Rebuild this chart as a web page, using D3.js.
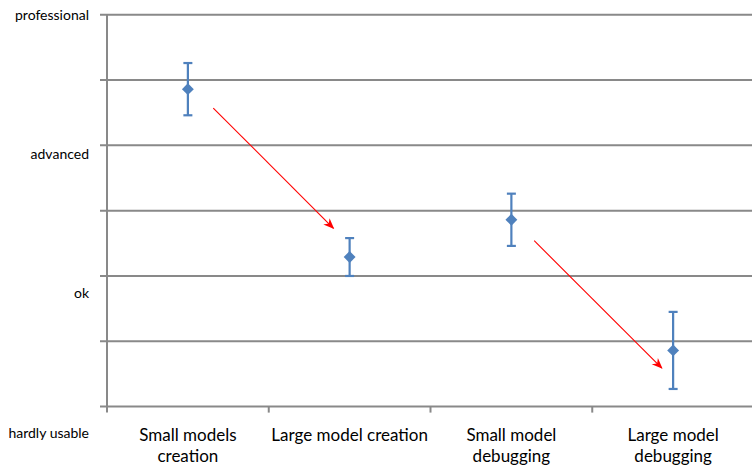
<!DOCTYPE html>
<html>
<head>
<meta charset="utf-8">
<script src="https://cdn.jsdelivr.net/npm/d3@7"></script>
<style>
  html, body { margin: 0; padding: 0; background: #fff; }
  svg { display: block; }
  text { font-family: Lato, "Open Sans", sans-serif; fill: #000; }
</style>
</head>
<body>
<svg id="chart" width="752" height="467"></svg>
<script>
// Tasks rated on the skill scale
const categories = [
  ["Small models", "creation"],
  ["Large model creation"],
  ["Small model", "debugging"],
  ["Large model", "debugging"]
];
const categoryKeys = categories.map(c => c.join(" "));
const means = [4.86, 2.29, 2.86, 0.86];
const errors = [0.40, 0.29, 0.40, 0.59];

// Skill levels shown on the vertical axis
const levelValues = [0, 2, 4, 6];
const levelLabels = ["hardly usable", "ok", "advanced", "professional"];

// Trend arrows, in category-index / rating units
const arrowsFrom = [[0.157, 4.57], [2.141, 2.54]];
const arrowsTo = [[0.900, 2.73], [2.930, 0.59]];

const svg = d3.select("#chart");
const gridColor = "#898989";
const blue = "#4f81bd";

const plotLeft = 107, plotRight = 754, plotTop = 14.7, plotBottom = 406.6;

const x = d3.scaleBand().domain(categoryKeys).range([plotLeft, plotRight]).padding(0);
const y = d3.scaleLinear().domain([0, 6]).range([plotBottom, plotTop]);
// level labels sit progressively lower relative to their gridlines
const yLabel = d3.scaleLinear().domain([0, 6]).range([432.7, 14.7]);
const xIdx = i => plotLeft + (i + 0.5) * x.bandwidth();
const cx = i => x(categoryKeys[i]) + x.bandwidth() / 2;

// horizontal gridlines, each with a short tick left of the axis
svg.append("g")
  .selectAll("line")
  .data(d3.range(0, 7))
  .join("line")
  .attr("x1", plotLeft - 7)
  .attr("x2", 752)
  .attr("y1", d => y(d))
  .attr("y2", d => y(d))
  .attr("stroke", gridColor)
  .attr("stroke-width", 2);

// vertical axis line
svg.append("line")
  .attr("x1", plotLeft).attr("x2", plotLeft)
  .attr("y1", plotTop).attr("y2", plotBottom + 6)
  .attr("stroke", gridColor)
  .attr("stroke-width", 2);

// category boundary ticks below the x axis
const boundaries = categoryKeys.map(k => x(k)).concat([plotRight]);
svg.append("g")
  .selectAll("line")
  .data(boundaries.slice(1))
  .join("line")
  .attr("x1", d => d).attr("x2", d => d)
  .attr("y1", plotBottom).attr("y2", plotBottom + 6)
  .attr("stroke", gridColor)
  .attr("stroke-width", 2);

// level labels
svg.append("g")
  .selectAll("text")
  .data(levelValues)
  .join("text")
  .attr("x", 89)
  .attr("y", d => yLabel(d))
  .attr("dy", "0.35em")
  .attr("text-anchor", "end")
  .style("font-size", "14px")
  .text((d, i) => levelLabels[i]);

// category labels
const catG = svg.append("g")
  .selectAll("text")
  .data(categories)
  .join("text")
  .attr("text-anchor", "middle")
  .style("font-size", "17px")
  .attr("transform", (d, i) => `translate(${cx(i)},441)`);
catG.selectAll("tspan")
  .data(d => d)
  .join("tspan")
  .attr("x", 0)
  .attr("y", (d, i) => i * 21)
  .text(d => d);

// error bars
const eb = svg.append("g")
  .selectAll("g")
  .data(means)
  .join("g")
  .attr("stroke", blue)
  .attr("stroke-width", 2.2);
eb.append("line")
  .attr("x1", (d, i) => cx(i))
  .attr("x2", (d, i) => cx(i))
  .attr("y1", (d, i) => y(d + errors[i]))
  .attr("y2", (d, i) => y(d - errors[i]));
[1, -1].forEach(s => {
  eb.append("line")
    .attr("x1", (d, i) => cx(i) - 4.5)
    .attr("x2", (d, i) => cx(i) + 4.5)
    .attr("y1", (d, i) => y(d + s * errors[i]))
    .attr("y2", (d, i) => y(d + s * errors[i]));
});

// diamond markers
svg.append("g")
  .selectAll("path")
  .data(means)
  .join("path")
  .attr("d", d3.symbol().type(d3.symbolDiamond2).size(90))
  .attr("transform", (d, i) => `translate(${cx(i)},${y(d)})`)
  .attr("fill", blue);

// red trend arrows
svg.append("defs").append("marker")
  .attr("id", "arrowhead")
  .attr("viewBox", "0 0 10 10")
  .attr("refX", 9).attr("refY", 5)
  .attr("markerWidth", 11).attr("markerHeight", 11)
  .attr("markerUnits", "userSpaceOnUse")
  .attr("orient", "auto")
  .append("path")
  .attr("d", "M0,1 L10,5 L0,9 L3,5 Z")
  .attr("fill", "#ff0000");

svg.append("g")
  .selectAll("line")
  .data(arrowsFrom)
  .join("line")
  .attr("x1", d => xIdx(d[0]))
  .attr("y1", d => y(d[1]))
  .attr("x2", (d, i) => xIdx(arrowsTo[i][0]))
  .attr("y2", (d, i) => y(arrowsTo[i][1]))
  .attr("stroke", "#ff0000")
  .attr("stroke-width", 1.1)
  .attr("marker-end", "url(#arrowhead)");
</script>
</body>
</html>
